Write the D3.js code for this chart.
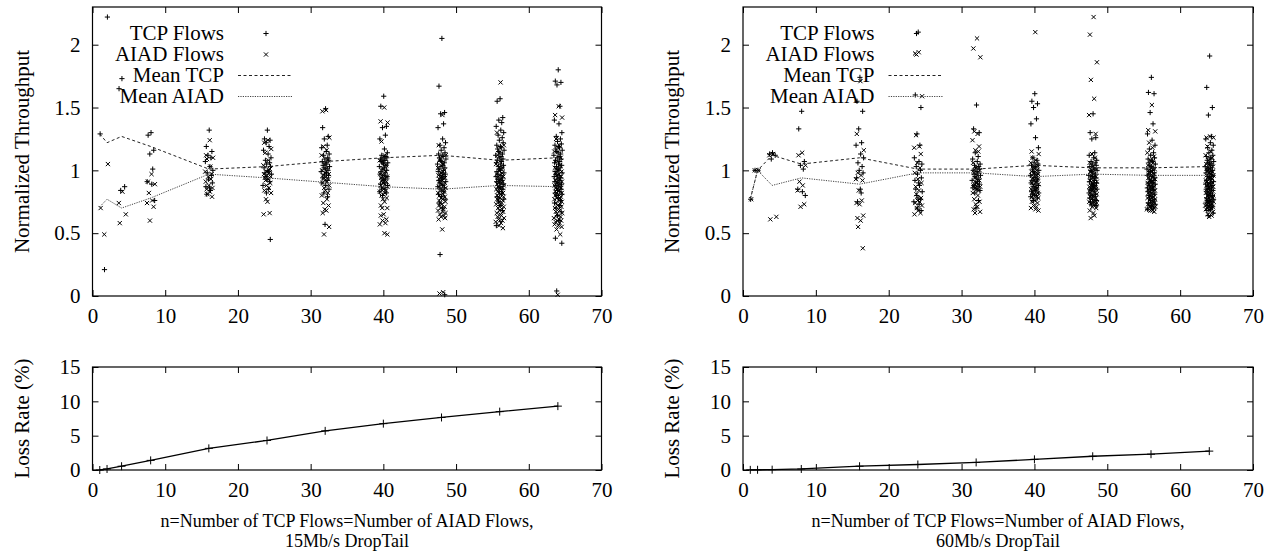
<!DOCTYPE html>
<html>
<head>
<meta charset="utf-8">
<script src="https://cdn.jsdelivr.net/npm/d3@7"></script>
<style>
  body { margin: 0; background: #fff; }
</style>
</head>
<body>
<svg id="fig" width="1264" height="552"></svg>
<script>
// number of flows of each kind in every run
var nValues = [1, 2, 4, 8, 16, 24, 32, 40, 48, 56, 64];
var xTicks = [0, 10, 20, 30, 40, 50, 60, 70];
var thrTicks = [0, 0.5, 1, 1.5, 2];
var lossTicks = [0, 5, 10, 15];
var legendLabels = ["TCP Flows", "AIAD Flows", "Mean TCP", "Mean AIAD"];
var xTitle = "n=Number of TCP Flows=Number of AIAD Flows,";
var panelNames = ["15Mb/s DropTail", "60Mb/s DropTail"];

// small horizontal spread of the flows around n (x units)
var jitter = [0.05,-0.35,0.42,-0.12,0.28,-0.48,0.15,0.55,-0.22,0.35,
  -0.05,0.48,-0.40,0.10,0.22,-0.28,0.60,-0.15,0.02,0.38,
  -0.55,0.18,-0.08,0.45,-0.32,0.25,-0.45,0.08,0.52,-0.18,
  0.32,-0.02,0.12,-0.38,0.58,-0.25,0.20,-0.50,0.40,-0.10,
  0.30,-0.42,0.00,0.50,-0.30,0.15,-0.20,0.44,-0.05,0.26,
  -0.36,0.56,-0.14,0.06,0.36,-0.46,0.24,-0.26,0.46,-0.06,
  0.16,-0.34,0.54,-0.16];

// 15Mb/s: per-flow normalized throughput
var tcp15 = [
  [1.29],
  [2.22, 0.21],
  [1.73, 1.65, 0.87, 0.84],
  [1.30, 1.28, 1.16, 1.13, 1.01, 0.91, 0.89, 0.76],
  [1.32,1.19,1.15,1.12,1.10,1.07,1.03,1.00,0.98,0.96,0.93,0.90,0.87,0.86,0.84,0.81],
  [1.32,1.25,1.24,1.22,1.19,1.16,1.13,1.10,1.08,1.06,1.05,1.03,1.02,1.00,0.99,0.98,0.97,0.95,0.93,0.91,0.88,0.85,0.82,0.45],
  [1.49,1.34,1.27,1.25,1.20,1.18,1.15,1.13,1.12,1.10,1.09,1.08,1.07,1.06,1.05,1.04,1.03,1.02,1.01,1.00,0.99,0.98,0.97,0.96,0.94,0.92,0.90,0.88,0.85,0.82,0.79,0.57],
  [1.59,1.51,1.35,1.34,1.28,1.25,1.17,1.14,1.12,1.11,1.10,1.10,1.09,1.08,1.08,1.07,1.06,1.06,1.05,1.04,1.03,1.02,1.01,1.00,0.99,0.98,0.97,0.96,0.95,0.94,0.93,0.92,0.90,0.89,0.88,0.86,0.85,0.83,0.82,0.80],
  [2.05,1.67,1.46,1.45,1.37,1.34,1.25,1.22,1.20,1.18,1.16,1.14,1.13,1.12,1.11,1.10,1.09,1.08,1.07,1.06,1.05,1.04,1.03,1.02,1.01,1.00,0.99,0.98,0.97,0.96,0.95,0.94,0.93,0.92,0.91,0.90,0.88,0.87,0.86,0.85,0.83,0.81,0.79,0.77,0.74,0.70,0.33,0.01],
  [1.57,1.55,1.42,1.40,1.38,1.35,1.32,1.30,1.28,1.26,1.24,1.22,1.20,1.19,1.18,1.17,1.16,1.15,1.14,1.13,1.12,1.11,1.10,1.09,1.08,1.07,1.06,1.05,1.04,1.03,1.02,1.01,1.00,0.99,0.98,0.97,0.96,0.95,0.94,0.93,0.92,0.91,0.90,0.89,0.88,0.87,0.86,0.85,0.83,0.81,0.79,0.77,0.75,0.72,0.68,0.56],
  [1.80,1.71,1.70,1.68,1.51,1.40,1.37,1.30,1.27,1.25,1.23,1.21,1.20,1.19,1.18,1.17,1.16,1.15,1.14,1.13,1.12,1.11,1.10,1.09,1.08,1.07,1.06,1.05,1.04,1.03,1.02,1.01,1.00,0.99,0.98,0.97,0.96,0.95,0.94,0.93,0.92,0.91,0.90,0.89,0.88,0.87,0.86,0.85,0.84,0.83,0.82,0.81,0.80,0.78,0.76,0.74,0.72,0.70,0.67,0.64,0.60,0.46,0.42,0.04]
];
var aiad15 = [
  [0.70],
  [1.05, 0.49],
  [0.83, 0.74, 0.65, 0.58],
  [0.97, 0.91, 0.89, 0.82, 0.76, 0.74, 0.71, 0.60],
  [1.24,1.12,1.10,1.09,1.03,0.99,0.97,0.95,0.93,0.91,0.88,0.86,0.85,0.83,0.81,0.79],
  [1.24,1.22,1.17,1.14,1.08,1.04,1.01,0.99,0.98,0.97,0.96,0.95,0.94,0.93,0.92,0.90,0.88,0.86,0.84,0.82,0.77,0.75,0.66,0.65],
  [1.48,1.47,1.26,1.19,1.16,1.12,1.08,1.05,1.02,1.00,0.98,0.97,0.96,0.95,0.94,0.93,0.92,0.91,0.90,0.88,0.86,0.84,0.82,0.80,0.77,0.74,0.72,0.69,0.68,0.66,0.55,0.49],
  [1.50,1.39,1.38,1.23,1.12,1.08,1.04,1.01,0.99,0.97,0.96,0.95,0.94,0.93,0.92,0.91,0.90,0.89,0.88,0.87,0.86,0.85,0.84,0.83,0.82,0.80,0.78,0.77,0.75,0.72,0.70,0.70,0.65,0.64,0.61,0.60,0.58,0.57,0.50,0.49],
  [1.44,1.20,1.12,1.08,1.05,1.02,1.00,0.98,0.97,0.96,0.95,0.94,0.93,0.92,0.91,0.90,0.89,0.88,0.87,0.86,0.85,0.84,0.83,0.82,0.81,0.80,0.79,0.78,0.77,0.76,0.75,0.74,0.73,0.72,0.71,0.70,0.69,0.68,0.67,0.66,0.65,0.64,0.63,0.62,0.61,0.53,0.03,0.02],
  [1.70,1.30,1.20,1.12,1.08,1.05,1.02,1.00,0.98,0.97,0.96,0.95,0.94,0.93,0.92,0.91,0.90,0.90,0.89,0.88,0.87,0.86,0.86,0.85,0.84,0.83,0.82,0.82,0.81,0.80,0.79,0.78,0.78,0.77,0.76,0.75,0.74,0.73,0.72,0.71,0.70,0.69,0.68,0.67,0.66,0.65,0.64,0.63,0.62,0.61,0.60,0.60,0.59,0.58,0.56,0.54],
  [1.51,1.44,1.42,1.25,1.20,1.15,1.10,1.07,1.04,1.02,1.00,0.99,0.98,0.97,0.96,0.95,0.94,0.93,0.92,0.91,0.90,0.90,0.89,0.88,0.87,0.86,0.86,0.85,0.84,0.83,0.82,0.82,0.81,0.80,0.79,0.78,0.78,0.77,0.76,0.75,0.74,0.73,0.72,0.71,0.70,0.69,0.68,0.67,0.66,0.65,0.64,0.63,0.62,0.61,0.60,0.60,0.59,0.58,0.57,0.56,0.55,0.53,0.49,0.01]
];
var meanTcp15 = [1.29, 1.22, 1.27, 1.19, 1.01, 1.03, 1.07, 1.10, 1.12, 1.08, 1.10];
var meanAiad15 = [0.71, 0.77, 0.70, 0.78, 0.97, 0.94, 0.905, 0.87, 0.85, 0.88, 0.87];
var loss15 = [0, 0.15, 0.55, 1.4, 3.15, 4.3, 5.7, 6.75, 7.65, 8.5, 9.3];

// 60Mb/s
var tcp60 = [
  [0.77],
  [1.00, 1.00],
  [1.14, 1.13, 1.12, 1.09],
  [1.47, 1.33, 1.07, 1.04, 1.01, 0.85, 0.83, 0.80],
  [1.74,1.55,1.47,1.33,1.22,1.20,1.13,1.10,1.06,1.03,1.00,0.98,0.94,0.85,0.82,0.75],
  [2.10,1.60,1.50,1.29,1.20,1.10,1.07,1.05,1.03,1.00,0.97,0.94,0.92,0.90,0.88,0.85,0.83,0.80,0.78,0.77,0.75,0.73,0.70,0.68],
  [1.52,1.33,1.30,1.14,1.11,1.09,1.07,1.05,1.04,1.03,1.02,1.01,1.00,0.99,0.98,0.97,0.96,0.95,0.94,0.93,0.92,0.91,0.90,0.89,0.88,0.87,0.86,0.85,0.84,0.82,0.76,0.70],
  [1.61,1.55,1.53,1.50,1.41,1.37,1.26,1.18,1.10,1.08,1.06,1.05,1.04,1.03,1.02,1.01,1.00,0.99,0.98,0.97,0.96,0.95,0.94,0.93,0.92,0.91,0.90,0.89,0.88,0.87,0.86,0.85,0.84,0.83,0.82,0.81,0.80,0.79,0.78,0.76],
  [1.45,1.30,1.26,1.25,1.14,1.12,1.10,1.08,1.07,1.06,1.05,1.04,1.03,1.02,1.01,1.00,1.00,0.99,0.98,0.97,0.96,0.95,0.95,0.94,0.93,0.92,0.91,0.90,0.90,0.89,0.88,0.87,0.86,0.85,0.85,0.84,0.83,0.82,0.81,0.80,0.79,0.78,0.77,0.76,0.75,0.74,0.73,0.72],
  [1.74,1.62,1.61,1.46,1.37,1.29,1.24,1.20,1.17,1.14,1.12,1.10,1.09,1.08,1.07,1.06,1.05,1.04,1.03,1.02,1.01,1.00,0.99,0.98,0.97,0.96,0.96,0.95,0.94,0.93,0.92,0.91,0.90,0.90,0.89,0.88,0.87,0.86,0.85,0.85,0.84,0.83,0.82,0.81,0.80,0.79,0.78,0.77,0.76,0.75,0.74,0.73,0.72,0.71,0.70,0.69],
  [1.91,1.66,1.50,1.44,1.27,1.25,1.22,1.20,1.18,1.16,1.14,1.12,1.11,1.10,1.09,1.08,1.07,1.06,1.05,1.04,1.03,1.02,1.01,1.00,1.00,0.99,0.98,0.97,0.96,0.95,0.95,0.94,0.93,0.92,0.91,0.90,0.90,0.89,0.88,0.87,0.86,0.85,0.85,0.84,0.83,0.82,0.81,0.80,0.80,0.79,0.78,0.77,0.76,0.75,0.75,0.74,0.73,0.72,0.71,0.70,0.69,0.68,0.66,0.64]
];
var aiad60 = [
  [0.77],
  [1.00, 1.00],
  [1.13, 1.12, 0.63, 0.61],
  [1.14, 1.12, 1.04, 0.91, 0.88, 0.84, 0.73, 0.71],
  [1.71,1.29,1.16,0.98,0.96,0.93,0.92,0.84,0.76,0.74,0.73,0.64,0.62,0.60,0.55,0.38],
  [1.94,1.93,1.59,1.28,1.19,1.18,1.13,1.06,1.02,0.98,0.93,0.90,0.87,0.84,0.81,0.78,0.76,0.75,0.74,0.72,0.70,0.68,0.66,0.65],
  [2.05,1.97,1.90,1.31,1.29,1.24,1.19,1.16,1.15,1.06,1.02,1.00,0.98,0.96,0.94,0.92,0.90,0.89,0.88,0.87,0.86,0.85,0.84,0.82,0.80,0.77,0.75,0.73,0.71,0.69,0.67,0.66],
  [2.10,1.15,1.13,1.10,1.08,1.06,1.04,1.02,1.00,0.99,0.98,0.97,0.96,0.95,0.94,0.93,0.92,0.91,0.90,0.89,0.88,0.87,0.86,0.85,0.84,0.83,0.82,0.81,0.80,0.79,0.78,0.77,0.76,0.75,0.74,0.72,0.71,0.70,0.69,0.68],
  [2.22,2.08,1.86,1.72,1.57,1.44,1.29,1.13,1.10,1.06,1.03,1.01,0.99,0.97,0.96,0.95,0.94,0.93,0.92,0.91,0.90,0.89,0.88,0.87,0.86,0.86,0.85,0.84,0.83,0.82,0.81,0.80,0.80,0.79,0.78,0.77,0.76,0.75,0.75,0.74,0.73,0.72,0.71,0.70,0.68,0.66,0.64,0.62],
  [1.52,1.32,1.31,1.22,1.18,1.14,1.11,1.08,1.06,1.04,1.02,1.01,1.00,0.99,0.98,0.97,0.96,0.95,0.94,0.93,0.92,0.91,0.90,0.90,0.89,0.88,0.87,0.86,0.86,0.85,0.84,0.83,0.82,0.82,0.81,0.80,0.79,0.78,0.78,0.77,0.76,0.75,0.75,0.74,0.73,0.73,0.72,0.72,0.71,0.71,0.70,0.70,0.69,0.68,0.68,0.67],
  [1.27,1.26,1.26,1.19,1.15,1.12,1.10,1.08,1.06,1.05,1.04,1.03,1.02,1.01,1.00,0.99,0.98,0.97,0.96,0.96,0.95,0.94,0.93,0.92,0.92,0.91,0.90,0.89,0.89,0.88,0.87,0.86,0.86,0.85,0.84,0.83,0.83,0.82,0.81,0.80,0.80,0.79,0.78,0.78,0.77,0.76,0.76,0.75,0.75,0.74,0.74,0.73,0.72,0.72,0.71,0.71,0.70,0.70,0.69,0.68,0.67,0.65,0.64,0.63]
];
var meanTcp60 = [0.77, 1.00, 1.12, 1.05, 1.10, 1.01, 1.01, 1.04, 1.02, 1.02, 1.03];
var meanAiad60 = [0.77, 1.00, 0.88, 0.94, 0.89, 0.98, 0.98, 0.95, 0.97, 0.96, 0.96];
var loss60 = [0.02, 0.03, 0.05, 0.15, 0.55, 0.8, 1.1, 1.55, 2.0, 2.3, 2.75];

var panels = [
  {left: 92.5, right: 601.5, tcp: tcp15, aiad: aiad15, meanTcp: meanTcp15, meanAiad: meanAiad15, loss: loss15, name: panelNames[0]},
  {left: 743, right: 1253, tcp: tcp60, aiad: aiad60, meanTcp: meanTcp60, meanAiad: meanAiad60, loss: loss60, name: panelNames[1]}
];

var svg = d3.select("#fig");
var serif = "'Liberation Serif', Tinos, 'Times New Roman', 'DejaVu Serif', serif";

var plusPath = "M-2.6,0H2.6M0,-2.6V2.6";
var crossPath = "M-2.1,-2.1L2.1,2.1M-2.1,2.1L2.1,-2.1";
var tcpDash = "3,2.5";
var aiadDash = "1.2,1.2";

// frame with inward ticks on all four sides, like gnuplot
function drawFrame(g, x, y, yTicks, yLabel) {
  var xr = x.range(), yr = y.range();
  g.append("g").attr("transform", "translate(0," + yr[0] + ")")
    .call(d3.axisBottom(x).tickValues(xTicks).tickSize(-6).tickPadding(12).tickFormat(function (d) { return d; }));
  g.append("g").attr("transform", "translate(0," + yr[1] + ")")
    .call(d3.axisTop(x).tickValues(xTicks).tickSize(-6).tickFormat(""));
  g.append("g").attr("transform", "translate(" + xr[0] + ",0)")
    .call(d3.axisLeft(y).tickValues(yTicks).tickSize(-6).tickPadding(12).tickFormat(function (d) { return d; }));
  g.append("g").attr("transform", "translate(" + xr[1] + ",0)")
    .call(d3.axisRight(y).tickValues(yTicks).tickSize(-6).tickFormat(""));
  g.selectAll(".domain").remove();
  g.selectAll(".tick line").attr("stroke", "#000");
  g.append("rect")
    .attr("x", xr[0]).attr("y", yr[1])
    .attr("width", xr[1] - xr[0]).attr("height", yr[0] - yr[1])
    .attr("fill", "none").attr("stroke", "#000").attr("stroke-width", 1.2);
  g.append("text").attr("class", "lbl")
    .attr("transform", "translate(" + (xr[0] - 71) + "," + ((yr[0] + yr[1]) / 2) + ") rotate(-90)")
    .attr("text-anchor", "middle").attr("dy", "0.35em")
    .text(yLabel);
}

function drawPanel(p) {
  var g = svg.append("g");
  var x = d3.scaleLinear().domain([0, 70]).range([p.left, p.right]);
  var yT = d3.scaleLinear().domain([0, 2.3]).range([296, 7]);
  var yL = d3.scaleLinear().domain([0, 15]).range([470, 367]);

  drawFrame(g, x, yT, thrTicks, "Normalized Throughput");
  drawFrame(g, x, yL, lossTicks, "Loss Rate (%)");

  // scatter of individual flows
  var tcpPts = [], aiadPts = [];
  nValues.forEach(function (n, k) {
    p.tcp[k].forEach(function (v, i) { tcpPts.push([n + jitter[i % 64], v]); });
    p.aiad[k].forEach(function (v, i) { aiadPts.push([n + jitter[(i + 32) % 64], v]); });
  });
  g.append("g").selectAll("path").data(tcpPts).enter().append("path")
    .attr("transform", function (d) { return "translate(" + x(d[0]) + "," + yT(d[1]) + ")"; })
    .attr("d", plusPath).attr("stroke", "#000").attr("stroke-width", 1).attr("fill", "none");
  g.append("g").selectAll("path").data(aiadPts).enter().append("path")
    .attr("transform", function (d) { return "translate(" + x(d[0]) + "," + yT(d[1]) + ")"; })
    .attr("d", crossPath).attr("stroke", "#000").attr("stroke-width", 1).attr("fill", "none");

  // mean lines
  var line = d3.line().x(function (d, i) { return x(nValues[i]); }).y(function (d) { return yT(d); });
  g.append("path").datum(p.meanTcp).attr("d", line)
    .attr("fill", "none").attr("stroke", "#222").attr("stroke-width", 1).attr("stroke-dasharray", tcpDash);
  g.append("path").datum(p.meanAiad).attr("d", line)
    .attr("fill", "none").attr("stroke", "#444").attr("stroke-width", 1).attr("stroke-dasharray", aiadDash);

  // key
  var key = g.append("g");
  var rowY = [33.5, 54.5, 75.5, 96.5];
  legendLabels.forEach(function (lab, i) {
    key.append("text").attr("class", "lbl").attr("x", p.left + 131.5).attr("y", rowY[i]).attr("dy", "0.33em")
      .attr("text-anchor", "end").text(lab);
  });
  key.append("path").attr("transform", "translate(" + (p.left + 173.5) + "," + rowY[0] + ")")
    .attr("d", plusPath).attr("stroke", "#000").attr("fill", "none");
  key.append("path").attr("transform", "translate(" + (p.left + 173.5) + "," + rowY[1] + ")")
    .attr("d", crossPath).attr("stroke", "#000").attr("fill", "none");
  key.append("line").attr("x1", p.left + 145.5).attr("x2", p.left + 200.5)
    .attr("y1", rowY[2]).attr("y2", rowY[2])
    .attr("stroke", "#222").attr("stroke-dasharray", tcpDash);
  key.append("line").attr("x1", p.left + 145.5).attr("x2", p.left + 200.5)
    .attr("y1", rowY[3]).attr("y2", rowY[3])
    .attr("stroke", "#444").attr("stroke-dasharray", aiadDash);

  // loss rate
  var lossLine = d3.line().x(function (d, i) { return x(nValues[i]); }).y(function (d) { return yL(d); });
  g.append("path").datum(p.loss).attr("d", lossLine)
    .attr("fill", "none").attr("stroke", "#000").attr("stroke-width", 1.3);
  g.append("g").selectAll("path").data(p.loss).enter().append("path")
    .attr("transform", function (d, i) { return "translate(" + x(nValues[i]) + "," + yL(d) + ")"; })
    .attr("d", "M-4,0H4M0,-4V4").attr("stroke", "#000").attr("stroke-width", 1).attr("fill", "none");

  // x title
  var cx = (p.left + p.right) / 2;
  g.append("text").attr("class", "ttl").attr("x", cx).attr("y", 527).attr("text-anchor", "middle").text(xTitle);
  g.append("text").attr("class", "ttl").attr("x", cx).attr("y", 547).attr("text-anchor", "middle").text(p.name);
}

panels.forEach(drawPanel);

// Times-like face everywhere
svg.selectAll("text").style("font-family", serif).style("font-size", "21px").style("fill", "#000");
svg.selectAll("text.ttl").style("font-size", "18px");
</script>
</body>
</html>
